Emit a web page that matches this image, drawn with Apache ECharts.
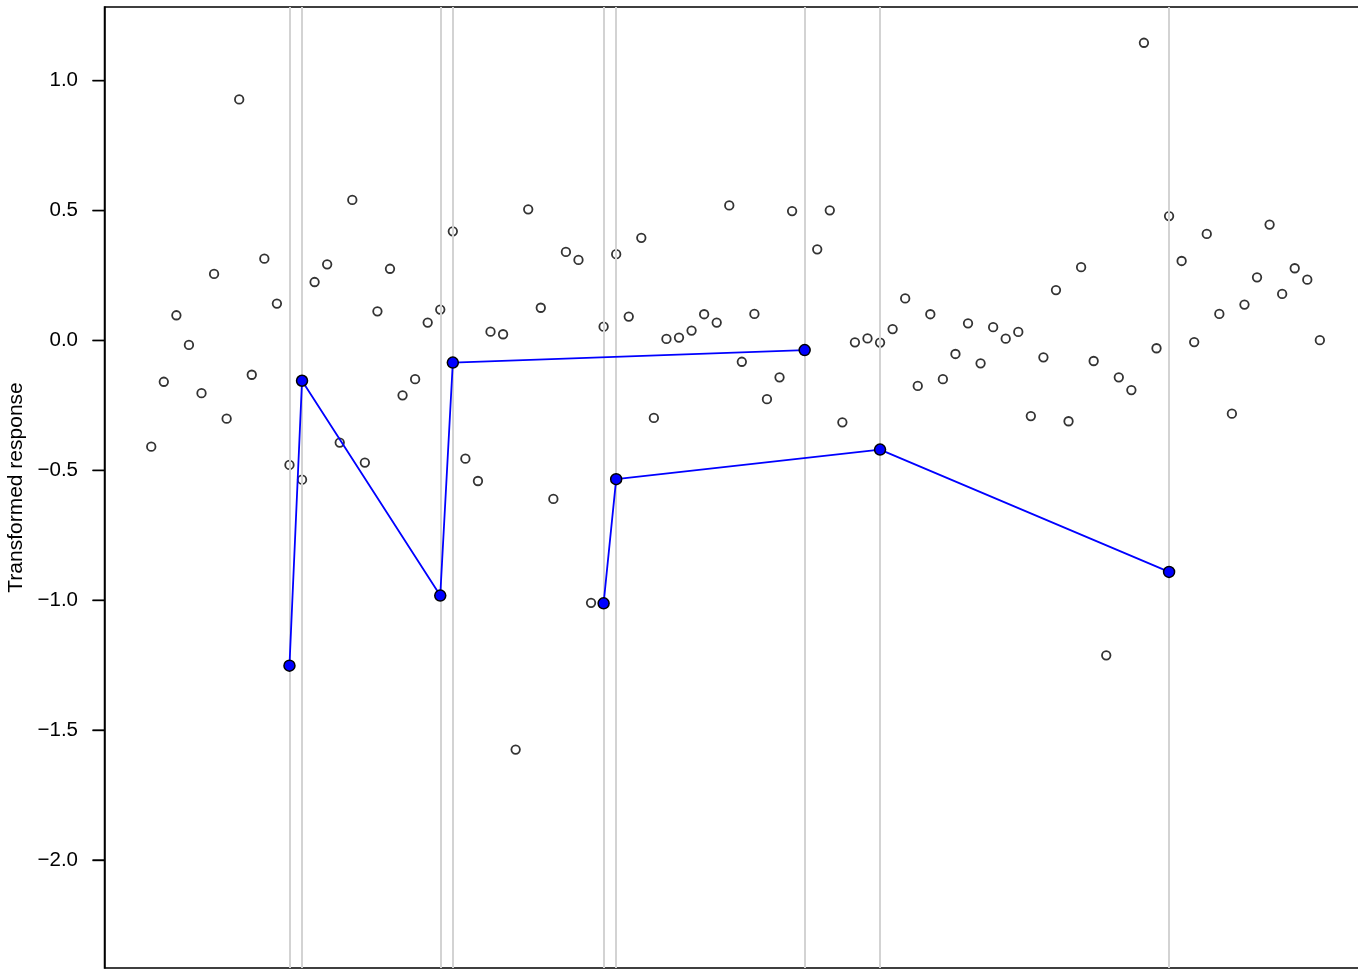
<!DOCTYPE html>
<html>
<head>
<meta charset="utf-8">
<style>
  html, body { margin: 0; padding: 0; background: #ffffff; }
  #chart { width: 1358px; height: 969px; }
</style>
<script src="https://cdn.jsdelivr.net/npm/echarts@6/dist/echarts.min.js"></script>
</head>
<body>
<div id="chart"></div>
<script>
// Observation index 1..94 and transformed response (open circles)
const responseValues = [
  -0.409, -0.159, 0.097, -0.017, -0.203, 0.256, -0.301, 0.928, -0.132, 0.315,
  0.142, -0.479, -0.536, 0.225, 0.293, -0.393, 0.541, -0.470, 0.112, 0.276,
  -0.211, -0.149, 0.069, 0.119, 0.420, -0.455, -0.541, 0.034, 0.024, -1.575,
  0.505, 0.126, -0.610, 0.341, 0.310, -1.010, 0.053, 0.332, 0.092, 0.395,
  -0.298, 0.006, 0.011, 0.038, 0.101, 0.069, 0.520, -0.082, 0.102, -0.226,
  -0.142, 0.498, -0.037, 0.351, 0.501, -0.315, -0.007, 0.008, -0.008, 0.044,
  0.162, -0.175, 0.101, -0.149, -0.052, 0.066, -0.088, 0.051, 0.007, 0.033,
  -0.291, -0.065, 0.194, -0.311, 0.282, -0.079, -1.212, -0.142, -0.191, 1.146,
  -0.030, 0.479, 0.306, -0.006, 0.410, 0.102, -0.282, 0.138, 0.243, 0.446,
  0.179, 0.278, 0.234, 0.001
];

// Highlighted (blue) paths
const pathAIndex = [12, 13, 24, 25, 53];
const pathAValues = [-1.252, -0.155, -0.982, -0.085, -0.037];
const pathBIndex = [37, 38, 59, 82];
const pathBValues = [-1.012, -0.534, -0.420, -0.891];

// Grey vertical reference lines
const verticalLines = [12, 13, 24, 25, 37, 38, 53, 59, 82];

// Y tick values and labels
const yTickValues = [-2.0, -1.5, -1.0, -0.5, 0.0, 0.5, 1.0];
const yTickLabels = ['\u22122.0', '\u22121.5', '\u22121.0', '\u22120.5', '0.0', '0.5', '1.0'];

const yAxisTitle = 'Transformed response';

const pointData = responseValues.map((v, i) => [i + 1, v]);
const pathAData = pathAIndex.map((x, i) => [x, pathAValues[i]]);
const pathBData = pathBIndex.map((x, i) => [x, pathBValues[i]]);

const FONT = '"Liberation Sans", Arial, Helvetica, sans-serif';

// Plot window (data units)
const Y_MIN = -2.4157, Y_MAX = 1.2837;
const X_MIN = -2.72, X_MAX = 97.72;

// Layout
const CHART_W = 1358;
const PLOT_LEFT = 104.5, PLOT_TOP = 7, PLOT_BOTTOM = 1, PLOT_RIGHT = -8.6;
const TICK_LEN = 12;

const chart = echarts.init(document.getElementById('chart'), null, { renderer: 'canvas' });

const blueSeries = (data) => ({
  type: 'line',
  xAxisIndex: 0,
  yAxisIndex: 0,
  data: data,
  z: 5,
  symbol: 'circle',
  symbolSize: 11,
  showSymbol: true,
  lineStyle: { color: '#0000FF', width: 1.8 },
  itemStyle: { color: '#0000FF', borderColor: '#000000', borderWidth: 1.5 },
  emphasis: { disabled: true },
  silent: true
});

chart.setOption({
  animation: false,
  backgroundColor: '#ffffff',
  grid: [
    {
      left: PLOT_LEFT,
      right: PLOT_RIGHT,
      top: PLOT_TOP,
      bottom: PLOT_BOTTOM,
      show: true,
      outerBoundsMode: 'none',
      containLabel: false,
      borderColor: '#000000',
      borderWidth: 1.5,
      backgroundColor: 'transparent'
    },
    {
      // narrow strip just left of the plot, used for the outward tick marks
      left: PLOT_LEFT - TICK_LEN,
      right: CHART_W - PLOT_LEFT,
      top: PLOT_TOP,
      bottom: PLOT_BOTTOM,
      show: false,
      outerBoundsMode: 'none',
      containLabel: false
    }
  ],
  xAxis: [
    {
      gridIndex: 0,
      type: 'value',
      min: X_MIN,
      max: X_MAX,
      axisLine: { show: false, onZero: false },
      axisTick: { show: false },
      axisLabel: { show: false },
      splitLine: { show: false }
    },
    {
      gridIndex: 1,
      type: 'value',
      min: 0,
      max: 1,
      show: false
    }
  ],
  yAxis: [
    {
      gridIndex: 0,
      type: 'value',
      min: Y_MIN,
      max: Y_MAX,
      name: yAxisTitle,
      nameLocation: 'middle',
      nameGap: 77,
      nameRotate: 90,
      nameTextStyle: { fontFamily: FONT, fontSize: 21, color: '#000000' },
      axisLine: { show: true, onZero: false, lineStyle: { color: '#000000', width: 1.5 } },
      axisTick: { show: false },
      axisLabel: {
        show: true,
        customValues: yTickValues,
        margin: 0,
        align: 'right',
        verticalAlign: 'middle',
        fontFamily: FONT,
        fontSize: 20.5,
        color: '#000000',
        formatter: function (val) {
          for (let i = 0; i < yTickValues.length; i++) {
            if (Math.abs(yTickValues[i] - val) < 1e-9) {
              return '{v|' + yTickLabels[i] + '}{s|\u00a0}{k|\u00a0}';
            }
          }
          return '';
        },
        rich: {
          v: { fontFamily: FONT, fontSize: 20.5, color: '#000000' },
          s: { width: 14.5, fontSize: 10, color: 'rgba(0,0,0,0)' },
          k: {
            width: TICK_LEN,
            height: 1.4,
            lineHeight: 1.4,
            fontSize: 1,
            color: 'rgba(0,0,0,0)',
            backgroundColor: '#000000'
          }
        }
      },
      splitLine: { show: false }
    },
    {
      gridIndex: 1,
      type: 'value',
      min: Y_MIN,
      max: Y_MAX,
      show: false
    }
  ],
  series: [
    {
      type: 'scatter',
      xAxisIndex: 0,
      yAxisIndex: 0,
      data: [],
      z: 1,
      silent: true,
      markLine: {
        silent: true,
        symbol: ['none', 'none'],
        label: { show: false },
        lineStyle: { color: '#D3D3D3', width: 2, type: 'solid' },
        data: verticalLines.map(x => ({ xAxis: x }))
      }
    },
    {
      // y-axis tick marks
      type: 'scatter',
      xAxisIndex: 1,
      yAxisIndex: 1,
      data: [],
      z: 4,
      silent: true,
      markLine: {
        silent: true,
        symbol: ['none', 'none'],
        label: { show: false },
        lineStyle: { color: '#000000', width: 1.4, type: 'solid' },
        data: yTickValues.map(v => ({ yAxis: v }))
      }
    },
    {
      type: 'scatter',
      xAxisIndex: 0,
      yAxisIndex: 0,
      data: pointData,
      z: 3,
      symbol: 'circle',
      symbolSize: 8.5,
      itemStyle: { color: 'rgba(255,255,255,0)', borderColor: '#000000', borderWidth: 1.8 },
      emphasis: { disabled: true },
      silent: true
    },
    blueSeries(pathAData),
    blueSeries(pathBData)
  ]
});
</script>
</body>
</html>
